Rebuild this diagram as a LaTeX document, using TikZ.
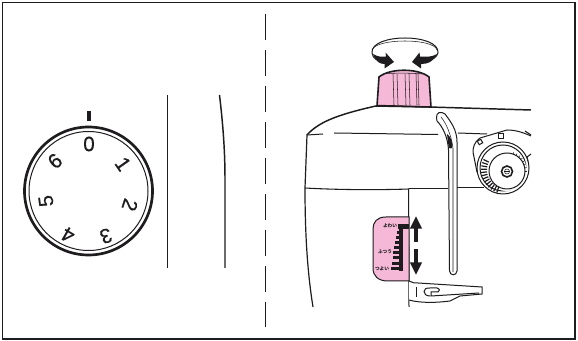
\documentclass[tikz,border=0pt]{standalone}
\usepackage{fontspec}
\setmainfont{Liberation Sans}
\newfontfamily\cjkfont{Noto Sans CJK JP}
\newfontfamily\dialfont[FakeBold=0.5]{Liberation Sans}
\usepackage{tikz}
\usetikzlibrary{arrows.meta, positioning, calc}
\definecolor{inkblack}{RGB}{30, 28, 30}
\definecolor{knobpink}{RGB}{245, 185, 215}
\tikzset{
    thinline/.style={draw=inkblack, line width=0.4pt},
    midline/.style={draw=inkblack, line width=0.75pt},
    heavyline/.style={draw=inkblack, line width=1.2pt},
    dialnum/.style={font=\dialfont\fontsize{15.5}{15.5}\selectfont, text=inkblack, inner sep=0pt},
    tinylabel/.style={font=\cjkfont\bfseries\fontsize{3.5}{4}\selectfont, text=inkblack, inner sep=0pt},
    movearrow/.style={-{Stealth[length=9.5pt,width=8.5pt,inset=0pt]}, line width=2.8pt, draw=inkblack}
}
\begin{document}
\begin{tikzpicture}[x=0.75pt, y=-0.75pt]
    \useasboundingbox (0,0) rectangle (578,341);
    \fill[white] (0,0) rectangle (578,341);
    \draw[draw=inkblack, line width=1.1pt] (2.5,2.5) rectangle (575,339);
    \draw[midline, dash pattern=on 19.5pt off 7.5pt] (265.5,14) -- (265.5,327);

    % left side, dial
    \coordinate (dialc) at (88.5,191);
    \draw[draw=inkblack, line width=2pt] (dialc) circle [radius=64];
    \draw[midline] (dialc) circle [radius=59.5];
    \fill[inkblack] (86.7,111) rectangle (90.5,121);
    \node[dialnum, rotate=0] (num0) at (89,144) {0};
    \node[dialnum, rotate=-55] (num1) at (123,164) {1};
    \node[dialnum, rotate=-108] (num2) at (130,205) {2};
    \node[dialnum, rotate=-160] (num3) at (106,236) {3};
    \node[dialnum, rotate=150] (num4) at (68,235) {4};
    \node[dialnum, rotate=98] (num5) at (46,201) {5};
    \node[dialnum, rotate=40] (num6) at (55,161) {6};
    \draw[midline] (167.5,95) -- (167.5,268);
    \draw[draw=inkblack, line width=1.1pt] (219.5,95) .. controls (223,125) and (225,150) .. (225,180) -- (225,268);

    % right side, knob and arrows
    \draw[midline] (372,53) .. controls (370,33) and (440,33) .. (438,53) .. controls (437,57) and (432,60) .. (428,61);
    \draw[thinline] (372,50) .. controls (376,38) and (434,38) .. (437,50);
    \draw[midline] (372,53) .. controls (372,56) and (374,58) .. (377,60);
    \fill[inkblack] (373,54) .. controls (378,57) and (382,57) .. (386,56.5) -- (385.5,52.5) -- (394,62) -- (384.5,68.5) -- (384.5,64) .. controls (380,64) and (376,62) .. cycle;
    \fill[inkblack] (437,54) .. controls (432,57) and (427,57) .. (420,56.5) -- (419.5,52.5) -- (412,62) -- (421,68.5) -- (421,64) .. controls (428,64) and (433,62) .. cycle;
    \draw[heavyline, fill=knobpink] (377,106) -- (379,77) .. controls (390,68) and (418,68) .. (429,77) -- (431,107) -- cycle;
    \draw[thinline] (386,73.5) .. controls (398,73) and (412,73) .. (423,74);
    \foreach \kx/\ky in {393/74,397/74,405/74,409/74,416/74,418/74} {
        \draw[thinline] (\kx,\ky) -- (\kx+1,105);
    }

    % right side, machine outline
    \draw[draw=inkblack, line width=1.1pt] (531,110) -- (378,105.5) .. controls (345,113) and (320,120) .. (307,135);
    \draw[draw=inkblack, line width=0.9pt] (307,135) -- (305,188) .. controls (305,230) and (307,270) .. (313,307);
    \draw[draw=inkblack, line width=0.8pt] (305,188) .. controls (340,190) and (380,190) .. (409,189);
    \draw[midline] (307,135) -- (323,134);
    \draw[midline] (334,133) -- (438,134.5);
    \draw[midline] (458,133) -- (487,134);
    \draw[midline] (525,131) -- (531,135);
    \draw[midline] (408.5,189) -- (409,307);
    \draw[midline] (409,189) -- (448,189);
    \draw[midline] (450,188) -- (484,188);

    % right side, lever
    \draw[midline, fill=white] (436.5,118) .. controls (436,112) and (441,111) .. (445,114) .. controls (451,122) and (457,130) .. (457,142) -- (457,271) .. controls (456.5,276) and (450,276) .. (449.5,271) -- (448.5,150) .. controls (448,138) and (443,127) .. (437,121) -- cycle;
    \draw[thinline] (441,117) .. controls (446,123) and (451,134) .. (453,148) -- (453,272);
    \fill[inkblack] (447,134) .. controls (451,137) and (453,142) .. (452,148) .. controls (451,149) and (449,149) .. (448.5,146) -- cycle;

    % right side, thread wheel
    \draw[midline, fill=white] (531,136) .. controls (522,132) and (515,130) .. (507,130) -- (480,138) .. controls (474,142) and (473,148) .. (473,152) -- (477,172) -- (484,180) -- (495,188);
    \draw[midline, fill=white] (503,168) circle [radius=26];
    \draw[midline] (503,168) circle [radius=23];
    \fill[white] (507,171) circle [radius=20];
    \foreach \wa in {110,118,...,206} {
        \draw[draw=inkblack, line width=0.9pt] ($(505,170)+(\wa:18)$) -- ($(505,170)+(\wa:24)$);
    }
    \foreach \wa in {-70,-60,...,0} {
        \draw[thinline] ($(507,171)+(\wa:17.5)$) -- ($(507,171)+(\wa:20)$);
    }
    \draw[midline] (507,171) circle [radius=18];
    \draw[heavyline] (507,171.5) circle [radius=5.5];
    \draw[thinline] (507,171.5) circle [radius=2.5];
    \draw[thinline] (504,171.5) -- (510,171.5);
    \draw[midline] (531,154) -- (527,157) -- (528,161);
    \draw[midline, fill=white, rotate around={30:(480,142)}] (478,140) rectangle (482,144);
    \draw[midline, fill=white] (498,134) rectangle (503,139);

    % right side, tension window
    \draw[midline, fill=knobpink] (409,217) -- (386,217) .. controls (377,217) and (373,222) .. (373,229) -- (373,268) .. controls (373,276) and (378,281) .. (388,281) -- (409,281) -- cycle;
    \node[tinylabel] (weak) at (390,226) {よわい};
    \node[tinylabel] (normal) at (385,252) {ふつう};
    \node[tinylabel] (strong) at (382,269) {つよい};
    \fill[inkblack] (398,224) rectangle (409,229);
    \fill[inkblack] (398.5,224) rectangle (403,271);
    \foreach \ty/\tx in {233/397,238/396,243/395,248/394,253/393,258/393,264/392,269/391} {
        \fill[inkblack] (\tx,\ty-1.5) rectangle (400,\ty+1.5);
    }
    \coordinate (upstart) at (416,242);
    \coordinate (upend) at (416,216);
    \coordinate (downstart) at (416,249);
    \coordinate (downend) at (416,275);
    \draw[movearrow] (upstart) -- (upend);
    \draw[movearrow] (downstart) -- (downend);

    % right side, presser foot
    \draw[midline, fill=white] (409,281) .. controls (412,283) and (415,283) .. (418,283) -- (482,287) -- (482,294) -- (460,296) -- (450,301) .. controls (435,303) and (420,303) .. (409,300);
    \draw[midline] (430,296) .. controls (422,296) and (422,287) .. (430,288) -- (437,288) .. controls (440,289) and (440,291) .. (438,292) -- (431,292) -- (431,296) -- (479,293);
    \draw[midline] (416,287) -- (416,297);
\end{tikzpicture}
\end{document}
